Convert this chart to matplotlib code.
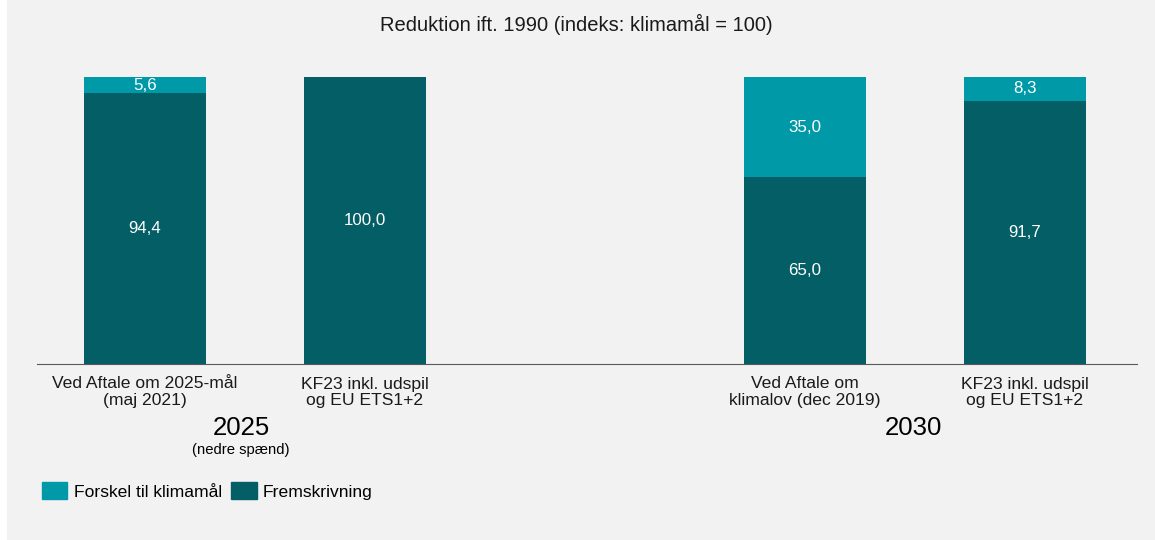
import numpy as np
import matplotlib.pyplot as plt
from matplotlib.patches import Rectangle, Patch

plt.rcParams['font.family'] = ['Liberation Sans', 'DejaVu Sans']

# data
categories = ['Ved Aftale om 2025-mål\n(maj 2021)', 'KF23 inkl. udspil\nog EU ETS1+2',
              'Ved Aftale om\nklimalov (dec 2019)', 'KF23 inkl. udspil\nog EU ETS1+2']
positions = [0, 1, 3, 4]
fremskrivning = [94.4, 100.0, 65.0, 91.7]
forskel = [5.6, 0.0, 35.0, 8.3]
groups = ['2025', '2030']
group_notes = ['(nedre spænd)', '']

light = '#0099a7'
dark = '#045e66'
bg = '#f2f2f2'

fig = plt.figure(figsize=(11.55, 5.4), dpi=100, facecolor='white')
fig.patches.append(Rectangle((7 / 1155, 0), 1, 1, transform=fig.transFigure,
                             facecolor=bg, edgecolor='none', zorder=-10))

ax = fig.add_axes([37 / 1155, 176 / 540, 1100 / 1155, 287 / 540])
ax.patch.set_alpha(0)

w = 0.555
ax.bar(positions, fremskrivning, width=w, color=dark, zorder=2)
ax.bar(positions, forskel, width=w, bottom=fremskrivning, color=light, zorder=2)

def fmt(v):
  return ('%.1f' % v).replace('.', ',')

for x, f, d in zip(positions, fremskrivning, forskel):
  ax.text(x, f / 2, fmt(f), ha='center', va='center', color='white', fontsize=12.2)
  if d > 0:
    ax.text(x, f + d / 2, fmt(d), ha='center', va='center', color='white', fontsize=12.2)

ax.set_xlim(-0.49, 4.51)
ax.set_ylim(0, 100)
for s in ['top', 'right', 'left']:
  ax.spines[s].set_visible(False)
ax.spines['bottom'].set_color('#595959')
ax.set_yticks([])
ax.set_xticks(positions)
ax.set_xticklabels(categories, fontsize=12.6, linespacing=1.12, color='#1a1a1a')
ax.tick_params(axis='x', length=0, pad=9)

# group labels
fig.text(241 / 1155, 1 - 428 / 540, groups[0], ha='center', va='center', fontsize=18.5)
fig.text(241 / 1155, 1 - 450 / 540, group_notes[0], ha='center', va='center', fontsize=10.7)
fig.text(913 / 1155, 1 - 428 / 540, groups[1], ha='center', va='center', fontsize=18.5)

fig.text(576 / 1155, 1 - 24 / 540, 'Reduktion ift. 1990 (indeks: klimamål = 100)',
         ha='center', va='center', fontsize=14.5, color='#1a1a1a')

handles = [Patch(color=light, label='Forskel til klimamål'),
           Patch(color=dark, label='Fremskrivning')]
fig.legend(handles=handles, loc='center left', bbox_to_anchor=(42 / 1155, 1 - 491 / 540),
           ncol=2, frameon=False, fontsize=12.6, handlelength=1.45, handleheight=1.1,
           handletextpad=0.35, columnspacing=0.55, borderaxespad=0, borderpad=0)

fig.savefig('out.png', dpi=100, facecolor=fig.get_facecolor())
